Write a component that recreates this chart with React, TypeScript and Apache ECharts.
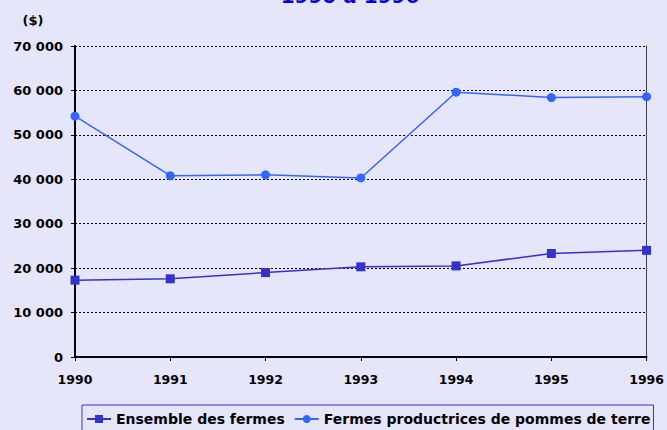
import React, { useEffect, useRef } from "react";
import * as echarts from "echarts";

const years = ["1990", "1991", "1992", "1993", "1994", "1995", "1996"];
const ensembleFermes = [17300, 17600, 19000, 20300, 20500, 23300, 24000];
const fermesPommes = [54200, 40800, 41000, 40300, 59600, 58400, 58600];
const yTicks = { min: 0, max: 70000, interval: 10000 };
const titleText = "1990 à 1996";
const unitText = "($)";
const seriesNames = ["Ensemble des fermes", "Fermes productrices de pommes de terre"];

const FONT = "'DejaVu Sans', sans-serif";

export default function App() {
  const ref = useRef<HTMLDivElement>(null);
  useEffect(() => {
    if (!ref.current) return;
    const chart = echarts.init(ref.current, undefined, { renderer: "svg" });
    chart.setOption({
      animation: false,
      backgroundColor: "#e6e6fa",
      textStyle: { fontFamily: FONT },
      graphic: [
        {
          type: "text",
          x: 350,
          y: -4.5,
          style: {
            text: titleText,
            fill: "#0000dd",
            font: `bold 20px ${FONT}`,
            textAlign: "center",
            textVerticalAlign: "middle",
          },
        },
        {
          type: "text",
          x: 33,
          y: 20,
          style: {
            text: unitText,
            fill: "#000",
            font: `bold 13px ${FONT}`,
            textAlign: "center",
            textVerticalAlign: "middle",
          },
        },
      ],
      grid: { left: 75, right: 16, top: 46, bottom: 73, containLabel: false },
      legend: {
        left: 82,
        top: 405,
        padding: [7, 3, 7, 4],
        itemGap: 9,
        itemWidth: 24,
        itemHeight: 10,
        borderColor: "#3333cc",
        borderWidth: 1,
        textStyle: { fontFamily: FONT, fontWeight: "bold", fontSize: 14, color: "#000" },
        data: seriesNames,
      },
      xAxis: {
        type: "category",
        data: years,
        boundaryGap: false,
        axisLine: { lineStyle: { color: "#000", width: 2 } },
        axisTick: { show: true, length: 4, lineStyle: { color: "#000" } },
        axisLabel: { color: "#000", fontWeight: "bold", fontSize: 12.5, margin: 16, fontFamily: FONT },
        splitLine: { show: false },
      },
      yAxis: [
        {
          type: "value",
          min: yTicks.min,
          max: yTicks.max,
          interval: yTicks.interval,
          axisLine: { show: true, lineStyle: { color: "#000", width: 2 } },
          axisTick: { show: true, length: 4, lineStyle: { color: "#000" } },
          axisLabel: {
            color: "#000",
            fontWeight: "bold",
            fontSize: 13,
            margin: 12,
            fontFamily: FONT,
            formatter: (v: number) => (v === 0 ? "0" : `${v / 1000} 000`),
          },
          splitLine: { show: true, lineStyle: { color: "#000", type: [2, 2], width: 1 } },
        },
        {
          type: "value",
          position: "right",
          min: yTicks.min,
          max: yTicks.max,
          interval: yTicks.interval,
          axisLine: { show: true, lineStyle: { color: "#404040", width: 1 } },
          axisTick: { show: false },
          axisLabel: { show: false },
          splitLine: { show: false },
        },
      ],
      series: [
        {
          name: seriesNames[0],
          type: "line",
          data: ensembleFermes,
          symbol: "rect",
          symbolSize: 9,
          itemStyle: { color: "#3333cc" },
          lineStyle: { color: "#3333cc", width: 1.5 },
        },
        {
          name: seriesNames[1],
          type: "line",
          data: fermesPommes,
          symbol: "circle",
          symbolSize: 9,
          itemStyle: { color: "#3366ff" },
          lineStyle: { color: "#3366ff", width: 1.5 },
        },
      ],
    });
    return () => chart.dispose();
  }, []);
  return <div ref={ref} style={{ width: 667, height: 430, position: "absolute", left: 0, top: 0 }} />;
}
